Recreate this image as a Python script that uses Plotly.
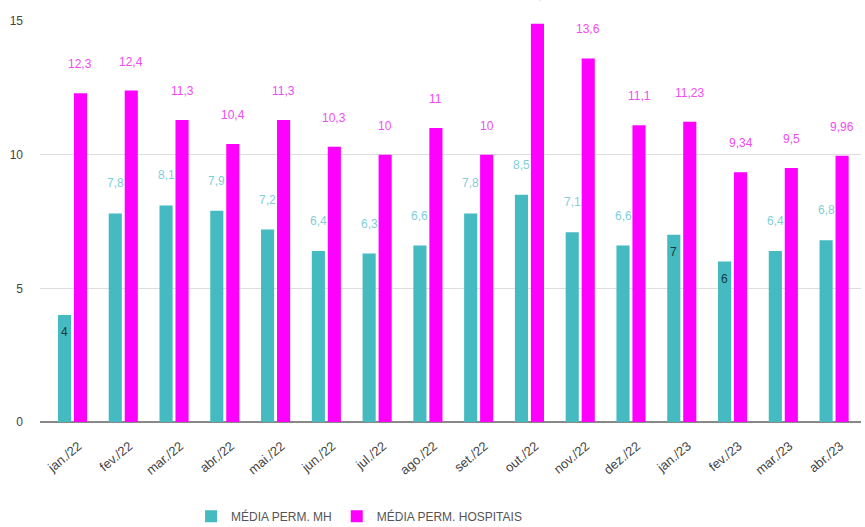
import plotly.graph_objects as go

categories = ["jan./22", "fev./22", "mar./22", "abr./22", "mai./22", "jun./22", "jul./22", "ago./22",
              "set./22", "out./22", "nov./22", "dez./22", "jan./23", "fev./23", "mar./23", "abr./23"]
media_mh = [4, 7.8, 8.1, 7.9, 7.2, 6.4, 6.3, 6.6, 7.8, 8.5, 7.1, 6.6, 7, 6, 6.4, 6.8]
media_hosp = [12.3, 12.4, 11.3, 10.4, 11.3, 10.3, 10, 11, 10, 14.9, 13.6, 11.1, 11.23, 9.34, 9.5, 9.96]
mh_inside = [True, False, False, False, False, False, False, False, False, False, False, False, True, True, False, False]
y_ticks = [0, 5, 10, 15]

TEAL = "#45BAC1"
MAGENTA = "#FF00FF"
TEAL_LABEL = "#7FD0D6"
MAG_LABEL = "#F24BF2"
DARK_LABEL = "#153B3E"


def fmt(v):
    s = ("%g" % v)
    return s.replace(".", ",")


fig = go.Figure()
fig.add_trace(go.Bar(name="MÉDIA PERM. MH", x=categories, y=media_mh, marker_color=TEAL,
                     marker_line_width=0))
fig.add_trace(go.Bar(name="MÉDIA PERM. HOSPITAIS", x=categories, y=media_hosp, marker_color=MAGENTA,
                     marker_line_width=0))

annotations = []
for c, v, inside in zip(categories, media_mh, mh_inside):
    annotations.append(dict(
        x=c, y=v, xref="x", yref="y", text=fmt(v), showarrow=False,
        xshift=-8, yshift=-17 if inside else 30,
        font=dict(size=12, color=DARK_LABEL if inside else TEAL_LABEL,
                  family="Liberation Sans, Arial, sans-serif"),
    ))
for c, v in zip(categories, media_hosp):
    annotations.append(dict(
        x=c, y=v, xref="x", yref="y", text=fmt(v), showarrow=False,
        xshift=8, yshift=29,
        font=dict(size=12, color=MAG_LABEL, family="Liberation Sans, Arial, sans-serif"),
    ))

fig.update_layout(
    width=865, height=527,
    margin=dict(l=40, r=4, t=21, b=105, autoexpand=False),
    paper_bgcolor="white", plot_bgcolor="white",
    barmode="group", bargap=0.37, bargroupgap=0.18,
    font=dict(family="Liberation Sans, Arial, sans-serif", color="#444444"),
    annotations=annotations,
    legend=dict(orientation="h", x=0.184, xanchor="left", y=-0.235, yanchor="middle",
                font=dict(size=12, color="#555555",
                          family="Liberation Sans Narrow, Arial Narrow, Liberation Sans, sans-serif"),
                itemwidth=30),
    xaxis=dict(tickangle=-40, tickfont=dict(size=13, color="#444444"), showgrid=False,
               showline=False, ticks="", range=[-0.64, 15.53], automargin=False,
               ticklabelstandoff=13, ticklabelshift=6),
    yaxis=dict(range=[0, 15], tickvals=y_ticks, ticktext=[str(t) for t in y_ticks],
               tickfont=dict(size=12, color="#444444"), gridcolor="#DDDDDD", gridwidth=1,
               zeroline=True, zerolinecolor="#888888", zerolinewidth=2, showline=False,
               ticks="", ticklabelstandoff=16, automargin=False),
)
fig.update_traces(cliponaxis=False)

fig.write_html("out.html", config={"displayModeBar": False},
               post_script="document.body.style.margin='0';document.body.style.overflow='hidden';")
